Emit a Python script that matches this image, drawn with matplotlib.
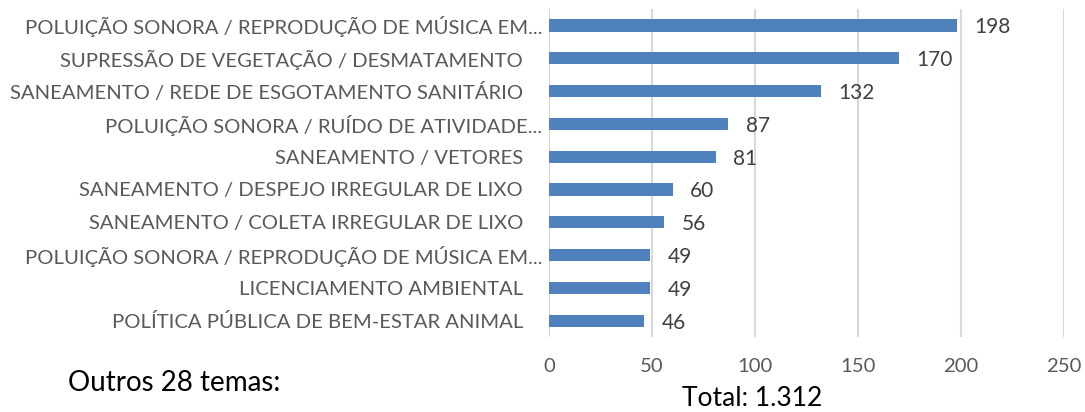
import matplotlib.pyplot as plt
import matplotlib.transforms as mtransforms

temas = ["POLUIÇÃO SONORA / REPRODUÇÃO DE MÚSICA EM...",
         "SUPRESSÃO DE VEGETAÇÃO / DESMATAMENTO",
         "SANEAMENTO / REDE DE ESGOTAMENTO SANITÁRIO",
         "POLUIÇÃO SONORA / RUÍDO DE ATIVIDADE...",
         "SANEAMENTO / VETORES",
         "SANEAMENTO / DESPEJO IRREGULAR DE LIXO",
         "SANEAMENTO / COLETA IRREGULAR DE LIXO",
         "POLUIÇÃO SONORA / REPRODUÇÃO DE MÚSICA EM...",
         "LICENCIAMENTO AMBIENTAL",
         "POLÍTICA PÚBLICA DE BEM-ESTAR ANIMAL"]
qtd = [198, 170, 132, 87, 81, 60, 56, 49, 49, 46]
ticks_x = [0, 50, 100, 150, 200, 250]

plt.rcParams['font.family'] = ['Lato', 'DejaVu Sans']

fig = plt.figure(figsize=(10.85, 4.12), dpi=100)
ax = fig.add_axes([0.506, 0.182, 0.4747, 0.796])

pos = list(range(len(temas)))
ax.barh(pos, qtd, height=0.37, color='#4F81BD', zorder=3)
for p, v in zip(pos, qtd):
    ax.text(v + 8.5, p, str(v), va='center_baseline', ha='left', fontsize=15,
            color='#404040')

ax.set_yticks(pos)
ax.set_yticklabels(temas, fontsize=14.6, color='#595959')
ax.set_xticks(ticks_x)
ax.set_xticklabels([str(t) for t in ticks_x], fontsize=14.6, color='#595959')
ax.set_xlim(0, 250)
ax.set_ylim(len(temas) - 0.5, -0.5)
ax.tick_params(axis='y', length=0, pad=5)
ax.tick_params(axis='x', length=0, pad=15)
ax.grid(axis='x', color='#D9D9D9', linewidth=1.5, zorder=0)
for s in ax.spines.values():
    s.set_visible(False)

# rótulos sem reticências ficam mais afastados do eixo (como no Excel)
desloc = mtransforms.ScaledTranslation(-19 / 100, 0, fig.dpi_scale_trans)
for lbl in ax.get_yticklabels():
    if not lbl.get_text().endswith('...'):
        lbl.set_transform(lbl.get_transform() + desloc)

fig.text(68 / 1085, 1 - 383 / 412, "Outros 28 temas:", fontsize=20, color='black',
         ha='left', va='center')
fig.text(752 / 1085, 1 - 399 / 412, "Total: 1.312", fontsize=19, color='black',
         ha='center', va='center')

fig.savefig('out.png', dpi=100)
